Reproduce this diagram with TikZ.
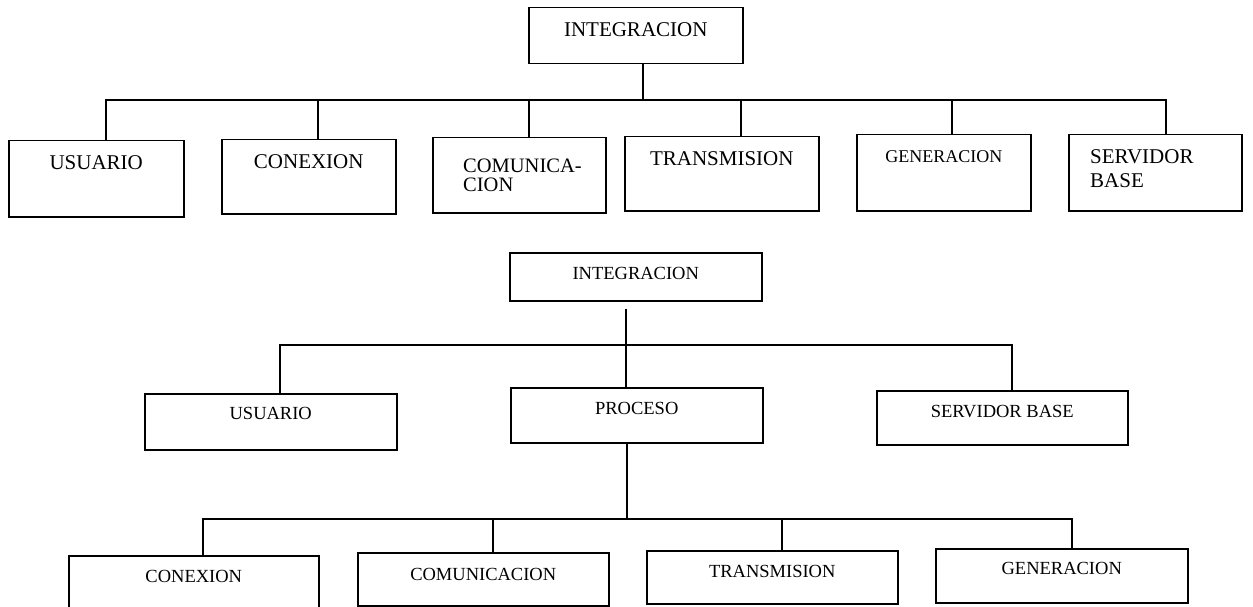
\documentclass[tikz,border=0pt]{standalone}
\usepackage{fontspec}
\setmainfont{Liberation Serif}
\usetikzlibrary{calc}
\begin{document}
\begin{tikzpicture}[x=1pt,y=-1pt,
  box/.style={draw, line width=1.5pt, inner sep=0pt, anchor=north west},
  wire/.style={line width=1.5pt},
  big/.style={font=\fontsize{21}{19}\selectfont, inner sep=0pt},
  mid/.style={font=\fontsize{18}{20}\selectfont, inner sep=0pt},
  small/.style={font=\fontsize{18.5}{20}\selectfont, inner sep=0pt}]
\clip (0,0) rectangle (1253,607);
\fill[white] (0,0) rectangle (1253,607);

% ---------- first chart ----------
\node[box, minimum width=214, minimum height=56] (i1) at (528,7) {};
\node[box, minimum width=175, minimum height=76] (u1) at (8,140) {};
\node[box, minimum width=174, minimum height=74] (c1) at (221,139) {};
\node[box, minimum width=173, minimum height=75] (m1) at (432,137) {};
\node[box, minimum width=194, minimum height=74] (t1) at (624,136) {};
\node[box, minimum width=174, minimum height=76] (g1) at (856,134) {};
\node[box, minimum width=173, minimum height=76] (s1) at (1068,134) {};

\node[big, anchor=base] (i1t) at (i1.north |- 0,37) {INTEGRACION};
\node[big, anchor=base] (u1t) at (u1.north |- 0,169) {USUARIO};
\node[big, anchor=base] (c1t) at (c1.north |- 0,168) {CONEXION};
% two-line labels: the base anchor sits on the last line
\node[anchor=base west, align=left, inner sep=0pt, font=\fontsize{20.5}{19}\selectfont] (m1t) at (463,191) {COMUNICA-\\CION};
\node[big, anchor=base] (t1t) at (t1.north |- 0,165) {TRANSMISION};
\node[mid, anchor=base] (g1t) at (g1.north |- 0,162) {GENERACION};
\node[anchor=base west, align=left, inner sep=0pt, font=\fontsize{21}{24}\selectfont] (s1t) at (1090,187) {SERVIDOR\\BASE};

\coordinate (j1) at (643,100);
\draw[wire] (i1.south -| j1) -- (j1);
\draw[wire] (j1) -| ([xshift=9.5]u1.north);
\draw[wire] (j1) -| ([xshift=9]c1.north);
\draw[wire] (j1) -| ([xshift=9.5]m1.north);
\draw[wire] (j1) -| ([xshift=19]t1.north);
\draw[wire] (j1) -| ([xshift=8]g1.north);
\draw[wire] (j1) -| ([xshift=10.5]s1.north);

% ---------- second chart ----------
\node[box, minimum width=252, minimum height=48] (i2) at (509,252) {};
\node[box, minimum width=252, minimum height=56] (u2) at (144,393) {};
\node[box, minimum width=252, minimum height=55] (p2) at (510,387) {};
\node[box, minimum width=251, minimum height=54] (s2) at (876,390) {};
\node[box, minimum width=250, minimum height=64] (c3) at (68,555) {};
\node[box, minimum width=251, minimum height=53] (m3) at (357,552) {};
\node[box, minimum width=251, minimum height=53] (t3) at (646,550) {};
\node[box, minimum width=252, minimum height=54] (g3) at (935,548) {};

\node[small, anchor=base] (i2t) at (i2.north |- 0,279) {INTEGRACION};
\node[small, anchor=base] (u2t) at (u2.north |- 0,419) {USUARIO};
\node[small, anchor=base] (p2t) at (p2.north |- 0,414) {PROCESO};
\node[small, anchor=base] (s2t) at (s2.north |- 0,417) {SERVIDOR BASE};
\node[small, anchor=base] (c3t) at (c3.north |- 0,582) {CONEXION};
\node[small, anchor=base] (m3t) at (m3.north |- 0,580) {COMUNICACION};
\node[small, anchor=base] (t3t) at (t3.north |- 0,577) {TRANSMISION};
\node[small, anchor=base] (g3t) at (g3.north |- 0,574) {GENERACION};

\coordinate (j2) at (626,345);
\draw[wire, shorten <=7pt] (i2.south -| j2) -- (p2.north -| j2);
\draw[wire] (j2) -| ([xshift=9]u2.north);
\draw[wire] (j2) -| ([xshift=9.5]s2.north);

\coordinate (j3) at (627,519);
\draw[wire] (p2.south -| j3) -- (j3);
\draw[wire] (j3) -| ([xshift=9]c3.north);
\draw[wire] (j3) -| ([xshift=9.5]m3.north);
\draw[wire] (j3) -| ([xshift=9.5]t3.north);
\draw[wire] (j3) -| ([xshift=10]g3.north);
\end{tikzpicture}
\end{document}
